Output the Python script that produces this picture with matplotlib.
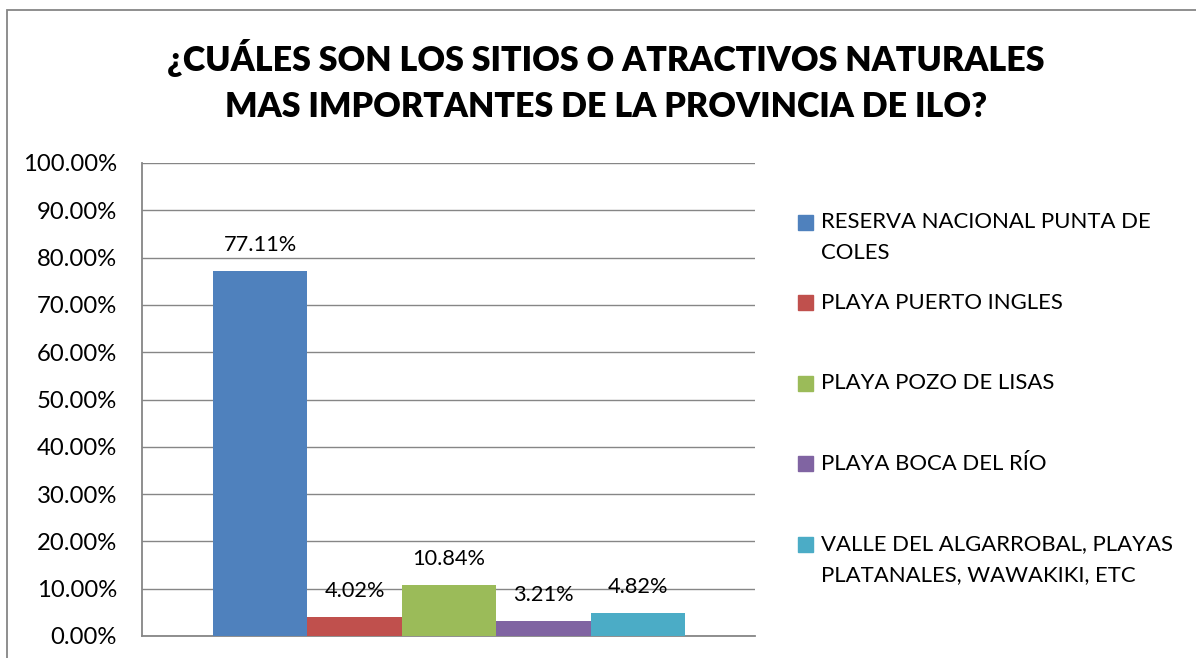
import matplotlib.pyplot as plt
from matplotlib.patches import Rectangle

# porcentaje de respuestas por sitio natural
sitios = [
    "RESERVA NACIONAL PUNTA DE\nCOLES",
    "PLAYA PUERTO INGLES",
    "PLAYA POZO DE LISAS",
    "PLAYA BOCA DEL RÍO",
    "VALLE DEL ALGARROBAL, PLAYAS\nPLATANALES, WAWAKIKI, ETC",
]
porcentajes = [77.11, 4.02, 10.84, 3.21, 4.82]
colores = ["#4F81BD", "#C0504D", "#9BBB59", "#8064A2", "#4BACC6"]
marcas_y = [0, 10, 20, 30, 40, 50, 60, 70, 80, 90, 100]

titulo = "¿CUÁLES SON LOS SITIOS O ATRACTIVOS NATURALES\nMAS IMPORTANTES DE LA PROVINCIA DE ILO?"

W, H = 1196, 658
plt.rcParams['font.family'] = ['Lato', 'DejaVu Sans']

fig = plt.figure(figsize=(W / 100, H / 100), dpi=100)

# marco exterior del grafico
fig.add_artist(Rectangle((7 / W, -0.2), 1.2, 1.2 - 10 / H, transform=fig.transFigure,
                         fill=False, edgecolor="#868686", lw=1.3))

fig.text(606 / W, 1 - 81 / H, titulo, ha="center", va="center", fontsize=24.5,
         fontweight="heavy", linespacing=1.52)

ax = fig.add_axes([142 / W, 1 - 636 / H, (755 - 142) / W, (636 - 163) / H])

ancho = 0.154
inicio = 0.1158
for i, (v, c) in enumerate(zip(porcentajes, colores)):
    x = inicio + ancho * (i + 0.5)
    ax.bar(x, v, width=ancho, color=c, zorder=3)
    ax.annotate(f"{v:.2f}%", (x, v), xytext=(0, 26 * 0.72), textcoords="offset points",
                ha="center", va="center", fontsize=15.7, zorder=4)

ax.set_xlim(0, 1)
ax.set_ylim(0, 100)
ax.set_yticks(marcas_y)
ax.set_yticklabels([f"{m:.2f}%" for m in marcas_y])
ax.set_xticks([])
ax.tick_params(axis="y", length=0, pad=18, labelsize=17.2)
ax.grid(axis="y", color="#868686", lw=1.0, zorder=0)
for lado in ["top", "right"]:
    ax.spines[lado].set_visible(False)
for lado in ["left", "bottom"]:
    ax.spines[lado].set_color("#868686")
    ax.spines[lado].set_linewidth(1.3)

# leyenda: cuadro de color y texto, alineados con la primera linea
for i, (nombre, c) in enumerate(zip(sitios, colores)):
    y = 222 + 80.6 * i
    fig.add_artist(Rectangle((798 / W, 1 - (y + 7.5) / H), 15 / W, 15 / H,
                             transform=fig.transFigure, color=c))
    for j, linea in enumerate(nombre.split("\n")):
        fig.text(821 / W, 1 - (y + 31 * j) / H, linea, ha="left", va="center",
                 fontsize=15.9)

fig.savefig("out.png", dpi=100)
